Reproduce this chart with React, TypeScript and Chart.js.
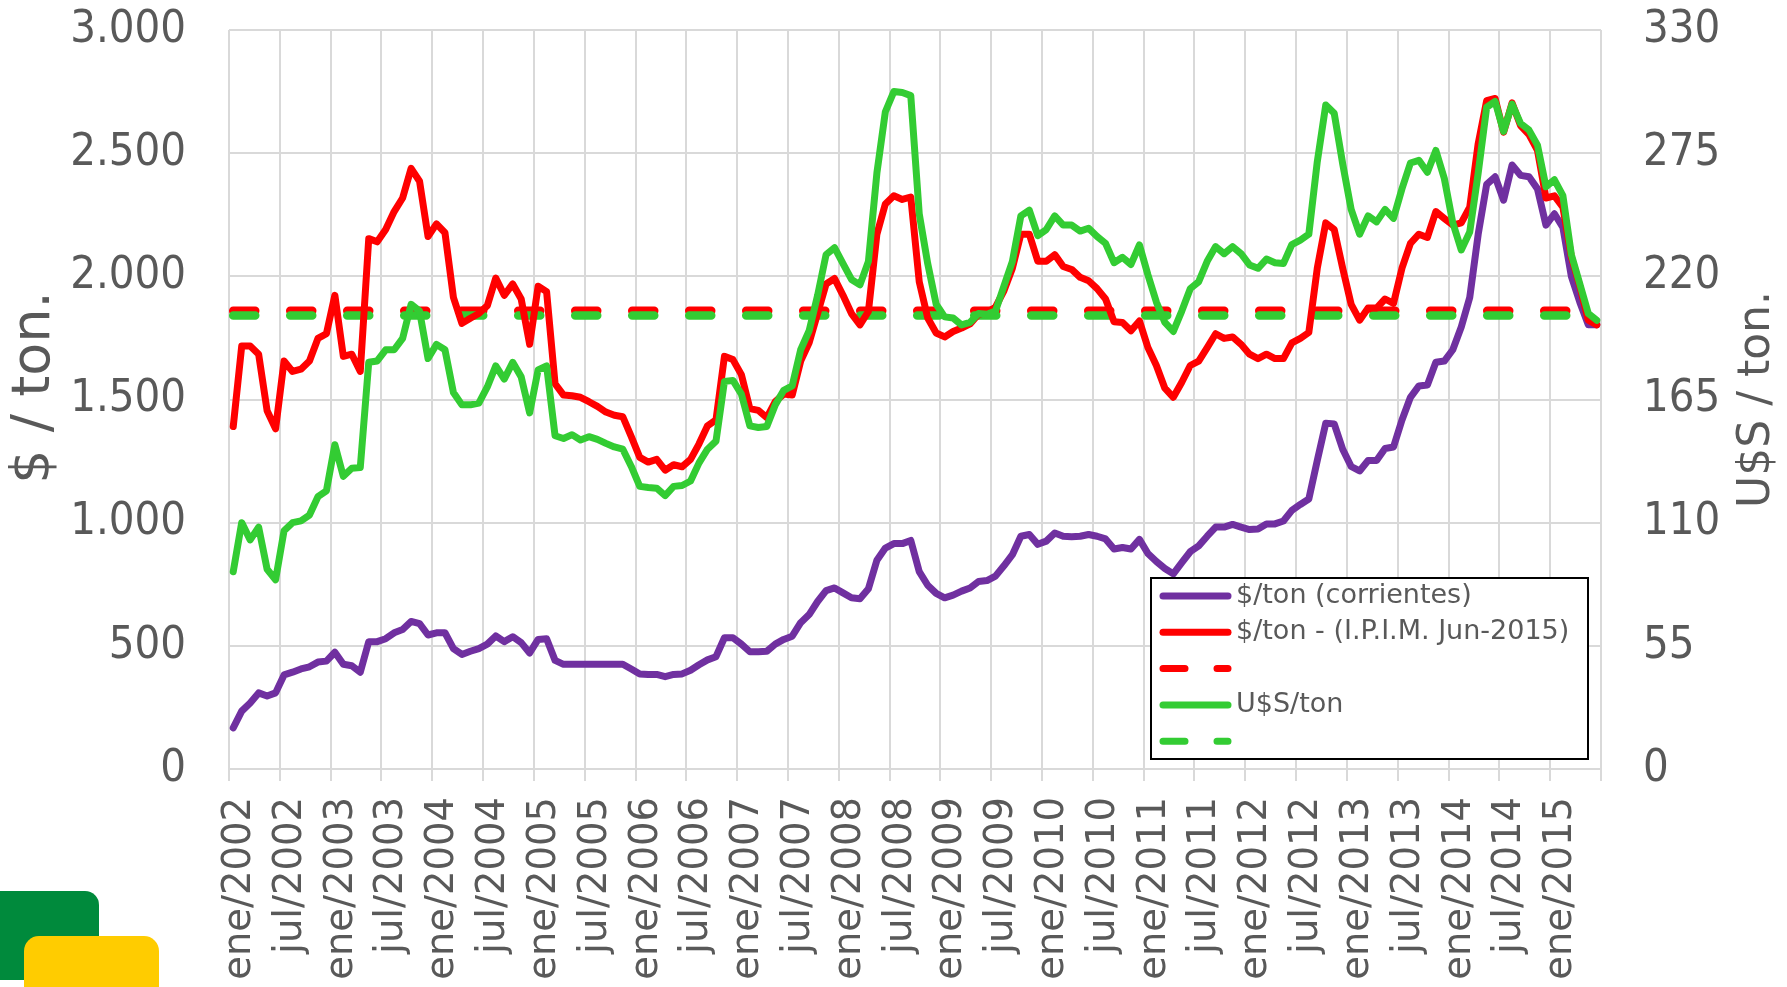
import React, { useEffect, useRef } from "react";
import { Chart, registerables } from "chart.js";

Chart.register(...registerables);

// ---------- DATA ----------
const tickLabels = [
  "ene/2002", "jul/2002", "ene/2003", "jul/2003", "ene/2004", "jul/2004",
  "ene/2005", "jul/2005", "ene/2006", "jul/2006", "ene/2007", "jul/2007",
  "ene/2008", "jul/2008", "ene/2009", "jul/2009", "ene/2010", "jul/2010",
  "ene/2011", "jul/2011", "ene/2012", "jul/2012", "ene/2013", "jul/2013",
  "ene/2014", "jul/2014", "ene/2015",
];

const seriesLabels = ["$/ton (corrientes)", "$/ton - (I.P.I.M. Jun-2015)", "", "U$S/ton", ""];
const leftAxisTitle = "$ / ton.";
const rightAxisTitle = "U$S / ton.";

// monthly, ene/2002 .. jun/2015
const pesosCorrientes = [
  167, 235, 268, 309, 296, 309, 382, 393, 406, 415, 434, 438,
  474, 425, 419, 393, 517, 517, 529, 553, 566, 599, 590, 544,
  553, 553, 489, 465, 478, 489, 507, 540, 517, 537, 513, 471,
  526, 529, 441, 425, 425, 425, 425, 425, 425, 425, 425, 406,
  386, 384, 384, 375, 384, 386, 401, 423, 443, 456, 533, 533,
  507, 476, 476, 478, 507, 526, 539, 594, 627, 680, 724, 735,
  715, 695, 691, 732, 847, 897, 915, 915, 928, 801, 746, 713,
  695, 706, 722, 735, 761, 765, 783, 825, 870, 945, 952, 912,
  925, 958, 945, 943, 945, 952, 945, 934, 893, 899, 893, 932,
  875, 842, 814, 792, 838, 882, 906, 945, 982, 982, 993, 982,
  972, 974, 995, 995, 1007, 1050, 1074, 1096, 1252, 1404, 1401, 1298,
  1228, 1210, 1252, 1252, 1301, 1307, 1417, 1509, 1555, 1559, 1651, 1656,
  1702, 1794, 1914, 2171, 2373, 2404, 2309, 2452, 2410, 2404, 2355, 2208,
  2254, 2199, 2000, 1895, 1803, 1803,
];

const pesosIPIM = [
  1390, 1717, 1717, 1684, 1454, 1381, 1656, 1614, 1623, 1656, 1748, 1767,
  1923, 1675, 1684, 1614, 2153, 2140, 2190, 2263, 2318, 2438, 2386, 2162,
  2213, 2177, 1914, 1809, 1830, 1849, 1881, 1993, 1923, 1969, 1908, 1724,
  1960, 1938, 1564, 1518, 1515, 1509, 1491, 1472, 1449, 1436, 1430, 1349,
  1265, 1246, 1257, 1213, 1235, 1227, 1257, 1320, 1393, 1417, 1675, 1662,
  1601, 1463, 1456, 1426, 1491, 1522, 1518, 1656, 1730, 1849, 1969, 1991,
  1923, 1849, 1803, 1858, 2171, 2294, 2327, 2312, 2322, 1978, 1831, 1770,
  1754, 1776, 1790, 1807, 1846, 1853, 1875, 1941, 2033, 2171, 2171, 2061,
  2061, 2088, 2040, 2028, 1996, 1982, 1950, 1908, 1816, 1813, 1779, 1819,
  1711, 1638, 1546, 1509, 1570, 1638, 1656, 1711, 1767, 1748, 1754, 1724,
  1684, 1666, 1684, 1666, 1666, 1730, 1748, 1772, 2033, 2217, 2190, 2033,
  1886, 1822, 1871, 1871, 1908, 1890, 2033, 2134, 2171, 2158, 2263, 2235,
  2208, 2217, 2281, 2539, 2713, 2722, 2585, 2704, 2612, 2575, 2511, 2318,
  2327, 2281, 2079, 1960, 1822, 1803,
];

const usdTon = [
  88.1, 110.0, 102.3, 108.0, 89.2, 84.5, 106.4, 110.0, 110.8, 113.4, 121.6, 124.2,
  144.8, 130.7, 134.3, 134.6, 181.6, 182.2, 187.2, 187.2, 192.3, 207.5, 204.5, 183.3,
  189.6, 187.2, 168.1, 162.6, 162.6, 163.4, 170.6, 180.0, 174.1, 181.6, 175.1, 159.0,
  178.2, 180.0, 148.8, 147.6, 149.3, 146.9, 148.4, 147.2, 145.4, 143.8, 142.8, 135.1,
  126.2, 125.7, 125.4, 122.1, 126.2, 126.6, 128.6, 136.7, 142.8, 146.4, 173.1, 173.5,
  167.4, 153.2, 152.5, 152.9, 162.6, 169.1, 171.1, 187.2, 195.7, 211.5, 229.7, 232.8,
  225.7, 218.6, 216.2, 226.7, 266.1, 293.5, 302.5, 302.1, 300.7, 247.9, 225.7, 207.5,
  201.9, 201.4, 198.3, 199.4, 203.4, 203.1, 204.5, 215.6, 226.7, 247.0, 249.5, 238.2,
  240.9, 247.0, 242.9, 242.9, 240.2, 241.5, 237.8, 234.7, 226.1, 228.5, 225.3, 234.0,
  220.7, 208.5, 199.4, 195.4, 204.5, 214.5, 217.6, 226.7, 233.3, 230.1, 233.3, 230.1,
  225.1, 223.6, 227.7, 226.1, 225.7, 234.2, 236.2, 238.8, 271.2, 296.5, 292.8, 270.2,
  249.9, 238.8, 247.0, 244.3, 249.9, 245.9, 259.1, 270.6, 271.8, 266.5, 276.2, 263.7,
  243.9, 231.8, 239.8, 266.1, 295.5, 298.1, 284.7, 296.9, 288.3, 285.3, 278.6, 260.0,
  263.1, 256.0, 229.7, 216.6, 203.4, 200.4,
];

const promedioPesosIPIM = 1860;
const promedioUsd = 202.5;

// ---------- STYLE ----------
const TEXT = "#595959";
const GRID = "#D9D9D9";
const PURPLE = "#7030A0";
const RED = "#FF0000";
const GREEN = "#33CC33";
const CONDENSED = '"DejaVu Sans Condensed", "DejaVu Sans", sans-serif';
const WIDE = '"DejaVu Sans", sans-serif';

const fmtThousands = (v: number) => String(v).replace(/\B(?=(\d{3})+(?!\d))/g, ".");
const toPoints = (arr: number[]) => arr.map((y, i) => ({ x: i + 0.5, y }));
const flatLine = (value: number, n: number) => [
  { x: 0.5, y: value },
  { x: n - 0.5, y: value },
];

const overlayPlugin = {
  id: "overlay",
  afterDraw(chart: any) {
    const ctx = chart.ctx as CanvasRenderingContext2D;
    const area = chart.chartArea;
    const midY = (area.top + area.bottom) / 2;
    ctx.save();
    // axis titles (both read bottom-to-top)
    ctx.fillStyle = TEXT;
    ctx.textAlign = "center";
    ctx.textBaseline = "middle";
    const titles: [number, number, number, string][] = [
      [35, midY - 12, 54, leftAxisTitle],
      [1758, midY, 44, rightAxisTitle],
    ];
    titles.forEach(([x, y, size, t]) => {
      ctx.save();
      ctx.font = `${size}px ${WIDE}`;
      ctx.translate(x, y);
      ctx.rotate(-Math.PI / 2);
      ctx.fillText(t, 0, 0);
      ctx.restore();
    });

    // legend box
    const bx = 1151, by = 578, bw = 437, bh = 181;
    ctx.fillStyle = "#FFFFFF";
    ctx.fillRect(bx, by, bw, bh);
    ctx.strokeStyle = "#000000";
    ctx.lineWidth = 2;
    ctx.strokeRect(bx, by, bw, bh);

    const items = chart.data.datasets;
    const legendOrder = [0, 1, 2, 3, 4];
    legendOrder.forEach((di, k) => {
      const ds = items[di];
      const y = 596 + k * 36.3;
      ctx.beginPath();
      ctx.strokeStyle = ds.borderColor;
      ctx.lineWidth = 7;
      ctx.lineCap = "round";
      ctx.setLineDash(ds.borderDash ? [22, 32] : []);
      ctx.moveTo(1163, y);
      ctx.lineTo(1228, y);
      ctx.stroke();
      ctx.setLineDash([]);
      if (ds.label) {
        ctx.fillStyle = TEXT;
        ctx.font = `27px ${WIDE}`;
        ctx.textAlign = "left";
        ctx.textBaseline = "middle";
        ctx.fillText(ds.label, 1236, y);
      }
    });
    ctx.restore();
  },
};

const noVerticalPadding = (width: number) => (s: any) => {
  s.width = width;
  s.paddingTop = 0;
  s.paddingBottom = 0;
};

export default function App() {
  const canvasRef = useRef<HTMLCanvasElement | null>(null);

  useEffect(() => {
    if (!canvasRef.current) return;
    const n = pesosIPIM.length;
    const solid = { pointRadius: 0, borderWidth: 7, borderJoinStyle: "round", borderCapStyle: "round", fill: false, tension: 0 };
    const dashed = { pointRadius: 0, borderWidth: 8.5, borderDash: [22, 35], borderCapStyle: "round", fill: false };
    const chart = new Chart(canvasRef.current, {
      type: "line",
      data: {
        datasets: [
          { ...solid, label: seriesLabels[0], data: toPoints(pesosCorrientes), yAxisID: "y", borderColor: PURPLE, order: 2 },
          { ...solid, label: seriesLabels[1], data: toPoints(pesosIPIM), yAxisID: "y", borderColor: RED, order: 1 },
          { ...dashed, label: seriesLabels[2], data: flatLine(promedioPesosIPIM, n), yAxisID: "y", borderColor: RED, order: 4 },
          { ...solid, label: seriesLabels[3], data: toPoints(usdTon), yAxisID: "y1", borderColor: GREEN, order: 0 },
          { ...dashed, label: seriesLabels[4], data: flatLine(promedioUsd, n), yAxisID: "y1", borderColor: GREEN, order: 3 },
        ] as any,
      },
      options: {
        animation: false,
        responsive: true,
        maintainAspectRatio: false,
        devicePixelRatio: 1,
        layout: { padding: { top: 30, left: 0, right: 0, bottom: 0 } },
        plugins: { legend: { display: false }, tooltip: { enabled: false }, title: { display: false } },
        scales: {
          x: {
            type: "linear",
            min: 0,
            max: n,
            afterFit: (s: any) => { s.height = 218; },
            grid: { color: GRID, lineWidth: 2, drawTicks: true, tickLength: 12, tickColor: GRID },
            border: { color: GRID, width: 2 },
            ticks: {
              stepSize: 6,
              autoSkip: false,
              minRotation: 90,
              maxRotation: 90,
              padding: 16,
              labelOffset: 11,
              color: TEXT,
              font: { family: WIDE, size: 38.5 },
              callback: (v: any) => tickLabels[Math.round(Number(v) / 6)] ?? "",
            },
          },
          y: {
            position: "left",
            min: 0,
            max: 3000,
            afterFit: noVerticalPadding(229),
            grid: { color: GRID, lineWidth: 2, drawTicks: false },
            border: { display: false },
            ticks: { stepSize: 500, padding: 43, color: TEXT, font: { family: CONDENSED, size: 45 }, callback: (v: any) => fmtThousands(Number(v)) },
          },
          y1: {
            position: "right",
            min: 0,
            max: 330,
            afterFit: noVerticalPadding(186),
            grid: { display: false, drawTicks: false },
            border: { display: false },
            ticks: { stepSize: 55, padding: 42, color: TEXT, font: { family: CONDENSED, size: 45 } },
          },
        },
      } as any,
      plugins: [overlayPlugin],
    });
    return () => chart.destroy();
  }, []);

  return (
    <div style={{ position: "absolute", left: 0, top: 0, width: 1787, height: 987, overflow: "hidden", background: "#fff" }}>
      <div style={{ position: "absolute", left: 0, top: 0, width: 1787, height: 987 }}>
        <canvas ref={canvasRef} />
      </div>
      <div style={{ position: "absolute", left: 0, top: 891, width: 99, height: 89, background: "#008A3C", borderTopRightRadius: 14, borderBottomRightRadius: 14 }} />
      <div style={{ position: "absolute", left: 24, top: 936, width: 135, height: 60, background: "#FFCC00", borderTopLeftRadius: 15, borderTopRightRadius: 15 }} />
    </div>
  );
}
